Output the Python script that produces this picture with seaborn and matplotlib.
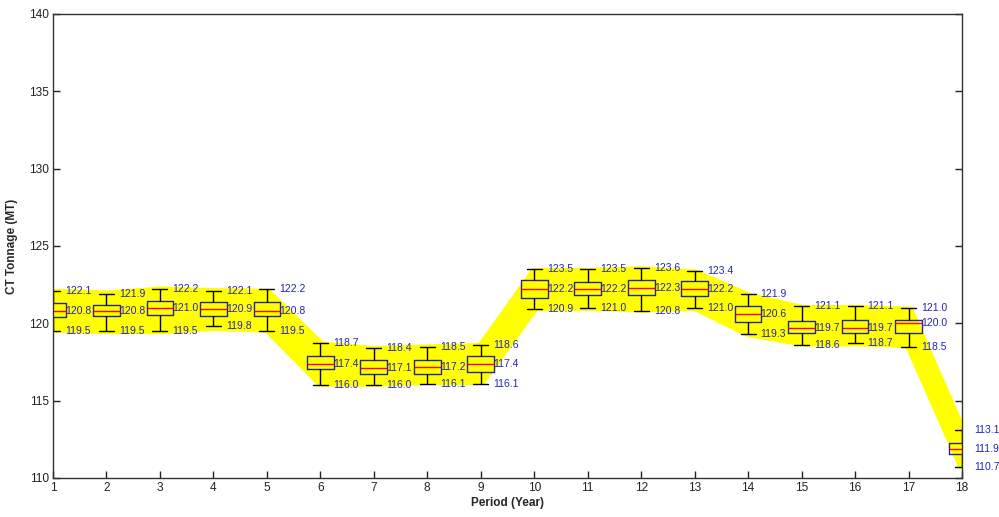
import numpy as np
import pandas as pd
import matplotlib
matplotlib.use("Agg")
import matplotlib.pyplot as plt
import seaborn as sns

periods = list(range(1, 19))
whisker_max = [122.1, 121.9, 122.2, 122.1, 122.2, 118.7, 118.4, 118.5, 118.6,
               123.5, 123.5, 123.6, 123.4, 121.9, 121.1, 121.1, 121.0, 113.1]
q3 = [121.3, 121.2, 121.45, 121.38, 121.35, 117.86, 117.64, 117.6, 117.9,
      122.78, 122.65, 122.78, 122.72, 121.14, 120.12, 120.23, 120.23, 112.24]
median = [120.8, 120.8, 121.0, 120.9, 120.8, 117.4, 117.1, 117.2, 117.4,
          122.2, 122.2, 122.3, 122.2, 120.6, 119.7, 119.7, 120.0, 111.9]
q1 = [120.41, 120.45, 120.51, 120.45, 120.45, 117.04, 116.73, 116.73, 116.88,
      121.64, 121.85, 121.85, 121.79, 120.08, 119.37, 119.37, 119.37, 111.53]
whisker_min = [119.5, 119.5, 119.5, 119.8, 119.5, 116.0, 116.0, 116.1, 116.1,
               120.9, 121.0, 120.8, 121.0, 119.3, 118.6, 118.7, 118.5, 110.7]
band_hi = [121.95, 121.85, 122.1, 122.0, 121.95, 118.55, 118.25, 118.35, 118.45,
           123.3, 123.3, 123.4, 123.2, 121.7, 120.9, 120.9, 120.8, 112.9]
band_lo = [119.75, 119.65, 119.65, 119.85, 119.75, 116.25, 116.25, 116.35, 116.35,
           121.15, 121.15, 121.05, 121.15, 119.45, 118.85, 118.85, 118.75, 110.9]

rows = []
for p, a, b, c, d, e in zip(periods, whisker_min, q1, median, q3, whisker_max):
    for v in (a, b, c, d, e):
        rows.append({"Period": p, "Tonnage": v})
df = pd.DataFrame(rows)

sns.set_theme(style="white")
plt.rcParams["font.family"] = ["Liberation Sans", "DejaVu Sans"]

fig = plt.figure(figsize=(9.99, 5.17), dpi=100)
ax = fig.add_axes([53 / 999, 1 - 478 / 517, (962 - 53) / 999, (478 - 14) / 517])

ax.fill_between(periods, band_lo, band_hi, color="#ffff00", edgecolor="#ffff00",
                lw=7, joinstyle="round", zorder=1)

box_kws = dict(data=df, x="Period", y="Tonnage", native_scale=True, width=0.5,
               whis=(0, 100), fill=False, showfliers=False, linewidth=1, ax=ax,
               boxprops=dict(color="#26268a"),
               medianprops=dict(color="red"),
               whiskerprops=dict(color="black"),
               capprops=dict(color="black"))
try:
    sns.boxplot(capwidths=0.28, **box_kws)
except Exception:
    for art in list(ax.lines):
        art.remove()
    sns.boxplot(**box_kws)

lab_col = "#2222bb"
for p, lo, md, hi in zip(periods, whisker_min, median, whisker_max):
    for v in (lo, md, hi):
        ax.text(p + 0.235, v, f"{v:.1f}", color=lab_col, fontsize=7.5,
                ha="left", va="center", clip_on=False, zorder=5)

ax.set_xlim(1, 18)
ax.set_ylim(110, 140)
ax.set_xticks(periods)
ax.set_xticklabels([str(p) for p in periods])
ax.set_yticks(np.arange(110, 141, 5))
ax.set_yticklabels([str(v) for v in range(110, 141, 5)])
ax.tick_params(axis="both", direction="in", length=5, width=1, colors="#222222",
               labelsize=8.6, pad=3)
ax.tick_params(axis="y", right=True, left=True)
ax.tick_params(axis="x", bottom=True, top=False)
for s in ax.spines.values():
    s.set_color("#333333")
    s.set_linewidth(1)

ax.set_xlabel("Period (Year)", fontsize=8.5, fontweight="bold", labelpad=2)
ax.set_ylabel("CT Tonnage (MT)", fontsize=8.5, fontweight="bold", labelpad=8)

fig.savefig("out.png", dpi=100)
